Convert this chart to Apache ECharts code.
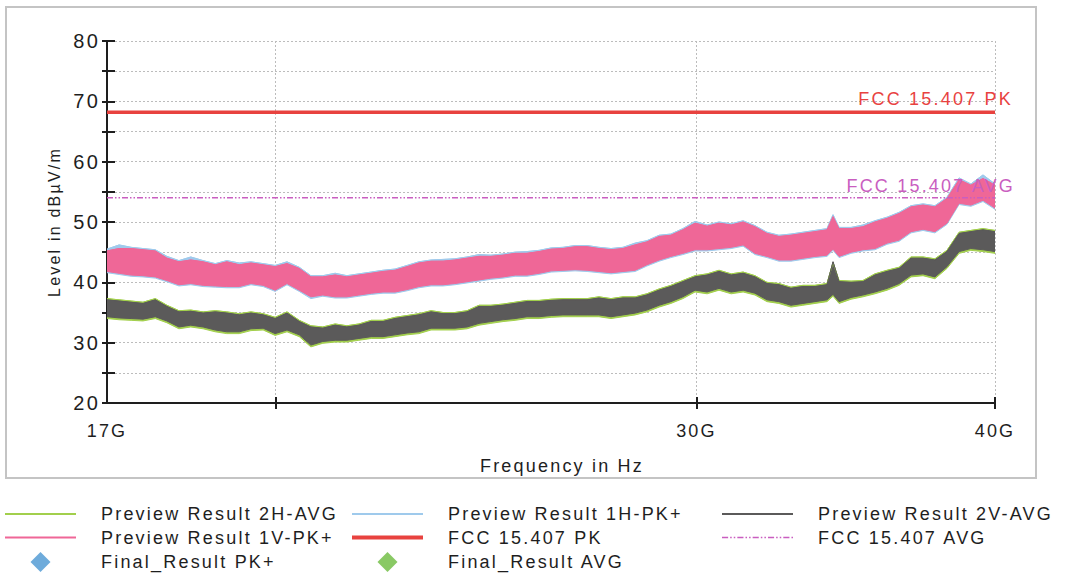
<!DOCTYPE html>
<html><head><meta charset="utf-8">
<script src="https://cdn.jsdelivr.net/npm/echarts@6/dist/echarts.min.js"></script>
<style>
html,body{margin:0;padding:0;background:#fff}
#c{width:1066px;height:574px}
#c svg text{letter-spacing:2.2px}
</style></head><body><div id="c"></div>
<script>
// Frequencies in GHz
const freqGHz = [17.00,17.20,17.40,17.60,17.81,18.01,18.22,18.43,18.65,18.87,
19.08,19.31,19.53,19.76,19.99,20.22,20.46,20.69,20.93,21.18,
21.42,21.67,21.93,22.18,22.44,22.70,22.96,23.23,23.50,23.77,
24.05,24.33,24.61,24.90,25.19,25.48,25.78,26.08,26.38,26.69,
27.00,27.31,27.63,27.95,28.28,28.60,28.94,29.27,29.61,29.96,
30.31,30.66,31.02,31.38,31.74,32.11,32.48,32.86,33.24,33.63,
34.02,34.22,
34.42,34.82,35.22,35.63,36.05,36.47,36.89,37.32,37.75,
38.19,38.64,39.08,39.54,40.00];

// Preview Result 1V-PK+ (pink) envelope, dBuV/m
const pk1V_hi = [45.2,45.6,45.6,45.4,45.2,44.0,43.4,43.7,43.4,42.9,
43.4,42.9,43.2,42.9,42.6,43.1,42.3,40.9,40.9,41.2,
40.9,41.2,41.5,41.8,42.0,42.6,43.2,43.5,43.5,43.7,
44.0,44.3,44.3,44.5,44.8,44.8,45.1,45.5,45.6,45.9,
45.9,45.6,45.4,45.6,46.2,46.7,47.6,47.8,48.7,49.8,
49.3,49.8,49.5,50.0,49.2,48.1,47.6,47.8,48.1,48.4,
48.7,50.9,
48.9,48.9,49.2,50.0,50.6,51.4,52.5,52.8,52.5,
53.9,57.0,56.1,57.2,56.1];
const pk1V_lo = [41.8,41.5,41.2,41.1,40.9,40.3,39.6,39.8,39.5,39.4,
39.3,39.3,39.8,39.5,38.7,39.8,38.7,37.6,37.9,37.6,
37.6,37.9,38.2,38.4,38.4,38.8,39.3,39.6,39.6,39.8,
40.1,40.4,40.7,40.9,41.2,41.2,41.5,41.9,42.0,42.1,
42.0,41.8,41.6,41.8,42.0,42.9,43.7,44.3,44.8,45.4,
45.4,45.6,45.8,46.2,44.8,44.3,43.7,43.7,44.0,44.3,
44.5,45.5,
44.3,45.0,45.4,45.6,46.5,47.0,48.4,48.8,48.4,
49.8,53.1,52.8,53.6,52.3];

// Preview Result 1H-PK+ (blue) envelope
const pk1H_hi = [45.5,46.2,45.8,45.6,45.4,44.3,43.6,44.2,43.6,43.1,
43.6,43.2,43.4,43.1,42.8,43.4,42.5,41.1,41.1,41.5,
41.1,41.4,41.7,42.0,42.2,42.8,43.4,43.7,43.8,43.9,
44.2,44.6,44.5,44.7,45.0,45.1,45.3,45.7,45.8,46.1,
46.1,45.8,45.6,45.8,46.5,46.9,47.8,48.0,48.9,50.1,
49.5,50.0,49.7,50.2,49.4,48.3,47.8,48.0,48.3,48.6,
48.9,51.2,
49.1,49.1,49.5,50.2,50.8,51.6,52.7,53.0,52.7,
54.1,57.3,56.3,57.8,56.3];
const pk1H_lo = [41.6,41.3,41.0,40.9,40.7,40.1,39.4,39.6,39.3,39.2,
39.1,39.1,39.6,39.3,38.5,39.6,38.5,37.3,37.7,37.4,
37.4,37.7,38.0,38.2,38.2,38.6,39.1,39.4,39.4,39.6,
39.9,40.2,40.5,40.7,41.0,41.0,41.3,41.7,41.8,41.9,
41.8,41.6,41.4,41.6,41.8,42.7,43.5,44.1,44.6,45.2,
45.2,45.4,45.6,46.0,44.6,44.1,43.5,43.5,43.8,44.1,
44.3,45.3,
44.1,44.8,45.2,45.4,46.3,46.8,48.2,48.6,48.2,
49.6,52.9,52.6,53.4,52.1];

// Preview Result 2V-AVG (dark grey) envelope
const av2V_hi = [37.1,36.9,36.7,36.5,37.1,36.0,35.1,35.2,34.9,35.1,
34.9,34.6,34.9,34.6,34.0,34.9,33.5,32.6,32.4,32.9,
32.6,32.9,33.5,33.5,34.0,34.3,34.6,35.1,34.8,34.8,
35.1,36.0,36.0,36.2,36.5,36.8,36.8,37.0,37.1,37.1,
37.1,37.4,37.1,37.4,37.4,37.9,38.7,39.3,40.1,40.9,
41.2,41.8,41.2,41.5,40.9,39.8,39.6,39.0,39.3,39.3,
39.6,43.4,
40.1,40.0,40.1,41.2,41.8,42.3,44.0,44.0,43.7,
45.1,48.1,48.4,48.7,48.4];
const av2V_lo = [34.3,34.1,34.0,33.9,34.3,33.6,32.6,32.9,32.6,32.1,
31.8,31.8,32.3,32.4,31.5,32.1,31.3,29.6,30.2,30.4,
30.4,30.7,31.0,31.0,31.3,31.6,31.8,32.4,32.4,32.4,
32.6,33.2,33.5,33.8,34.0,34.3,34.3,34.5,34.6,34.6,
34.6,34.6,34.3,34.6,34.9,35.4,36.2,36.8,37.6,38.7,
38.4,39.0,38.4,38.7,38.2,37.1,36.8,36.2,36.5,36.8,
37.1,38.0,
36.8,37.5,37.9,38.4,39.0,39.8,41.2,41.4,40.9,
42.6,45.1,45.6,45.4,45.1];

// Preview Result 2H-AVG (green) envelope
const av2H_hi = [37.3,37.1,36.9,36.7,37.3,36.2,35.3,35.4,35.1,35.3,
35.1,34.8,35.1,34.8,34.2,35.1,33.7,32.8,32.6,33.1,
32.8,33.1,33.7,33.7,34.2,34.5,34.8,35.3,35.0,35.0,
35.3,36.2,36.2,36.4,36.7,37.0,37.0,37.2,37.3,37.3,
37.3,37.6,37.3,37.6,37.6,38.1,38.9,39.5,40.3,41.1,
41.4,42.0,41.4,41.7,41.1,40.0,39.8,39.2,39.5,39.5,
39.8,43.2,
40.3,40.2,40.3,41.4,42.0,42.5,44.2,44.2,43.9,
45.3,48.3,48.6,48.9,48.6];
const av2H_lo = [34.0,33.8,33.7,33.6,34.0,33.3,32.3,32.6,32.3,31.8,
31.5,31.5,32.0,32.1,31.2,31.8,31.0,29.3,29.9,30.1,
30.1,30.4,30.7,30.7,31.0,31.3,31.5,32.1,32.1,32.1,
32.3,32.9,33.2,33.5,33.7,34.0,34.0,34.2,34.3,34.3,
34.3,34.3,34.0,34.3,34.6,35.1,35.9,36.5,37.3,38.4,
38.1,38.7,38.1,38.4,37.9,36.8,36.5,35.9,36.2,36.5,
36.8,37.7,
36.5,37.2,37.6,38.1,38.7,39.5,40.9,41.1,40.6,
42.3,44.8,45.3,45.1,44.8];

// Limits
const limitFreq = [17, 40];
const fccPK = [68.2, 68.2];
const fccAVG = [54.0, 54.0];

// Final results (none measured in view)
const finalPK = [];
const finalAVG = [];

// Axis ticks
const yTicks = {min: 20, max: 80, step: 5};
const xLabelValues = [17, 30, 40];
const xTickValues = [20, 30, 40];

const FONT = '"Liberation Sans", Arial, Helvetica, sans-serif';
const TXT = '#1e1e1e';
const C = {
  green: '#a2cf4c', blue: '#9fcaec', grey: '#5b5a5a', pink: '#ef6797',
  red: '#e8423f', avg: '#c95ec0', dPK: '#4a96d2', dAVG: '#6cbc3d'
};

function band(hi, lo, color) {
  return {
    type: 'custom', silent: true, clip: true, z: 2,
    data: freqGHz.map((f, i) => [f, lo[i], hi[i]]),
    encode: {x: 0, y: [1, 2]},
    renderItem(params, api) {
      if (params.dataIndex !== 0) return null;
      const pts = [];
      for (let i = 0; i < freqGHz.length; i++) pts.push(api.coord([freqGHz[i], hi[i]]));
      for (let i = freqGHz.length - 1; i >= 0; i--) pts.push(api.coord([freqGHz[i], lo[i]]));
      return {type: 'polygon', shape: {points: pts}, style: {fill: color, stroke: color, lineWidth: 1}};
    }
  };
}
function edge(name, vals, color) {
  return {
    type: 'line', name, z: 2, symbol: 'none', silent: true,
    data: freqGHz.map((f, i) => [f, vals[i]]),
    lineStyle: {color, width: 1}, itemStyle: {color}
  };
}

const series = [
  band(pk1H_hi, pk1H_lo, C.blue), edge('Preview Result 1H-PK+', pk1H_hi, C.blue),
  band(pk1V_hi, pk1V_lo, C.pink), edge('Preview Result 1V-PK+', pk1V_hi, C.pink),
  band(av2H_hi, av2H_lo, C.green), edge('Preview Result 2H-AVG', av2H_hi, C.green),
  band(av2V_hi, av2V_lo, C.grey), edge('Preview Result 2V-AVG', av2V_hi, C.grey),
  {
    type: 'line', name: 'FCC 15.407 PK', z: 4, symbol: 'none', silent: true,
    data: limitFreq.map((f, i) => [f, fccPK[i]]),
    lineStyle: {color: C.red, width: 3.5}, itemStyle: {color: C.red},
    endLabel: {show: true, formatter: 'FCC 15.407 PK', color: C.red, fontSize: 18, fontFamily: FONT,
      align: 'right', verticalAlign: 'middle', offset: [10, -13]}
  },
  {
    type: 'line', name: 'FCC 15.407 AVG', z: 4, symbol: 'none', silent: true,
    data: limitFreq.map((f, i) => [f, fccAVG[i]]),
    lineStyle: {color: C.avg, width: 1.5, type: [6, 2, 1.5, 2, 1.5, 2]}, itemStyle: {color: C.avg},
    endLabel: {show: true, formatter: 'FCC 15.407 AVG', color: C.avg, fontSize: 18, fontFamily: FONT,
      align: 'right', verticalAlign: 'middle', offset: [12, -12]}
  },
  {type: 'scatter', name: 'Final_Result PK+', symbol: 'diamond', symbolSize: 14, data: finalPK, itemStyle: {color: C.dPK}},
  {type: 'scatter', name: 'Final_Result AVG', symbol: 'diamond', symbolSize: 14, data: finalAVG, itemStyle: {color: C.dAVG}}
];

// legend icon shapes
const ICON_W = 71;
const lineIcon = h => `path://M0,0H${ICON_W}V${h}H0Z`;
function dashDotIcon(h) {
  const pattern = [6, 2, 1.5, 2, 1.5, 2];
  let x = 0, k = 0, d = '';
  while (x < ICON_W) {
    const len = Math.min(pattern[k % pattern.length], ICON_W - x);
    if (k % 2 === 0) d += `M${x},0H${x + len}V${h}H${x}Z`;
    x += len; k++;
  }
  return 'path://' + d;
}
const diamondIcon = 'path://M10,0L20,10L10,20L0,10Z';
const LI = (name, icon) => ({name, icon, itemStyle: {borderWidth: 0}});

function legendCol(left, items) {
  return {
    orient: 'vertical', left, top: 505, padding: 0,
    itemWidth: ICON_W, itemHeight: 20, itemGap: 5.5,
    selectedMode: false, symbolKeepAspect: true,
    textStyle: {fontSize: 18, fontFamily: FONT, color: TXT, padding: [0, 0, 0, 20]},
    data: items
  };
}

const option = {
  animation: false,
  backgroundColor: '#fff',
  grid: {left: 107, right: 71, top: 41, bottom: 171, containLabel: false, outerBoundsMode: 'none'},
  xAxis: [
    {
      type: 'log', logBase: 10, min: 17, max: 40, position: 'bottom',
      axisLine: {show: true, lineStyle: {color: TXT, width: 2}},
      axisTick: {show: true, customValues: xTickValues, length: 6, lineStyle: {color: TXT, width: 2}},
      axisLabel: {customValues: xLabelValues, formatter: v => Math.round(v) + 'G', color: TXT, fontSize: 18, fontFamily: FONT, margin: 19},
      splitLine: {show: true, lineStyle: {type: [2, 2], color: '#bcbcbc', width: 1}},
      minorTick: {show: false}, minorSplitLine: {show: false},
      name: 'Frequency in Hz', nameLocation: 'middle', nameGap: 54,
      nameTextStyle: {color: TXT, fontSize: 18, fontFamily: FONT, padding: [0, 0, 0, 22]}
    },
    {
      type: 'log', logBase: 10, min: 17, max: 40, position: 'bottom',
      axisLine: {show: false},
      axisTick: {show: true, inside: true, customValues: xTickValues, length: 6, lineStyle: {color: TXT, width: 2}},
      axisLabel: {show: false}, splitLine: {show: false}
    }
  ],
  yAxis: [
    {
      type: 'value', min: yTicks.min, max: yTicks.max, interval: yTicks.step, position: 'left',
      axisLine: {show: true, lineStyle: {color: TXT, width: 2}},
      axisTick: {show: true, length: 5, lineStyle: {color: TXT, width: 2}},
      axisLabel: {formatter: v => (v % 10 === 0 ? String(v) : ''), color: TXT, fontSize: 20, fontFamily: FONT, margin: 7},
      splitLine: {show: true, lineStyle: {type: [2, 2], color: '#bcbcbc', width: 1}},
      name: 'Level in dBµV/m', nameLocation: 'middle', nameGap: 45,
      nameTextStyle: {color: TXT, fontSize: 16, fontFamily: FONT}
    },
    {
      type: 'value', min: yTicks.min, max: yTicks.max, interval: yTicks.step, position: 'left',
      axisLine: {show: false},
      axisTick: {show: true, inside: true, length: 8, lineStyle: {color: TXT, width: 2}},
      axisLabel: {show: false}, splitLine: {show: false}
    }
  ],
  legend: [
    legendCol(5, [
      LI('Preview Result 2H-AVG', lineIcon(2)),
      LI('Preview Result 1V-PK+', lineIcon(2)),
      LI('Final_Result PK+', diamondIcon)
    ]),
    legendCol(352, [
      LI('Preview Result 1H-PK+', lineIcon(2)),
      LI('FCC 15.407 PK', lineIcon(4)),
      LI('Final_Result AVG', diamondIcon)
    ]),
    legendCol(722, [
      LI('Preview Result 2V-AVG', lineIcon(2)),
      LI('FCC 15.407 AVG', dashDotIcon(1.5))
    ])
  ],
  graphic: [{
    type: 'rect', silent: true, z: -10,
    shape: {x: 6, y: 7, width: 1030, height: 471},
    style: {fill: 'none', stroke: '#c4c4c4', lineWidth: 2}
  }],
  series
};

const chart = echarts.init(document.getElementById('c'), null, {renderer: 'svg'});
chart.setOption(option);
</script>
</body></html>
